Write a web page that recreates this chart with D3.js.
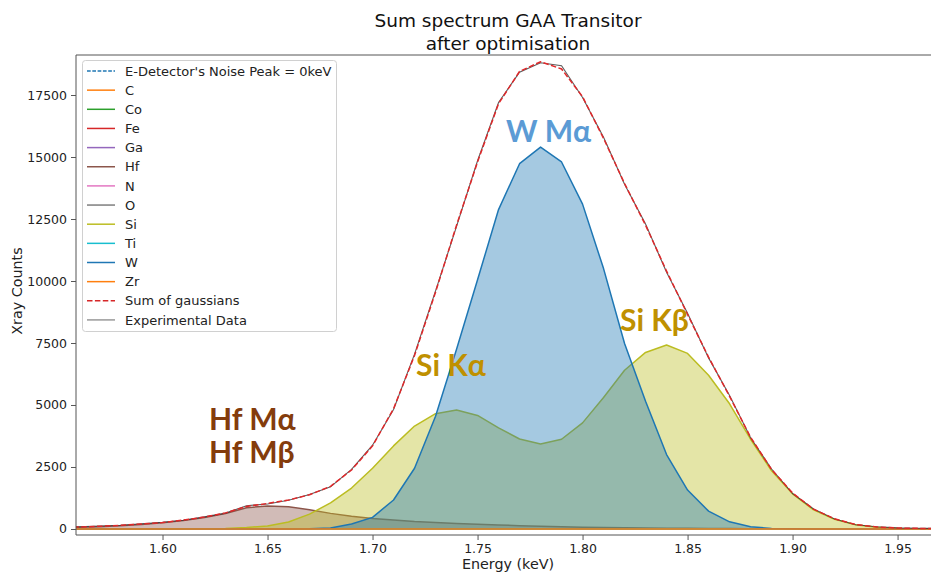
<!DOCTYPE html>
<html><head><meta charset="utf-8">
<script src="https://cdn.jsdelivr.net/npm/d3@7"></script>
<style>body{margin:0;background:#fff}svg{display:block}</style>
</head><body><svg id="c" width="931" height="572"></svg>
<script>
const energy = [1.55,1.56,1.57,1.58,1.59,1.60,1.61,1.62,1.63,1.64,1.65,1.66,1.67,1.68,1.69,1.70,1.71,1.72,1.73,1.74,1.75,1.76,1.77,1.78,1.79,1.80,1.81,1.82,1.83,1.84,1.85,1.86,1.87,1.88,1.89,1.90,1.91,1.92,1.93,1.94,1.95,1.96,1.97];
const hfValues = [50,70,95,130,180,250,340,460,620,860,930,900,780,630,510,420,360,300,260,220,190,160,135,110,90,75,60,50,42,35,28,22,18,15,12,10,8,7,6,5,4,3,2];
const siValues = [0,0,0,0,0,0,5,10,25,60,120,280,600,1050,1650,2450,3350,4150,4650,4800,4580,4080,3630,3430,3620,4280,5300,6400,7120,7420,7080,6200,5050,3620,2350,1420,770,390,170,70,25,10,5];
const wValues = [0,0,0,0,0,0,0,0,0,0,0,0,5,40,200,470,1170,2450,4550,7250,10050,12880,14730,15400,14800,13100,10500,7480,5150,3000,1570,720,290,90,25,5,0,0,0,0,0,0,0];
const sumValues = [60,80,110,150,200,260,360,480,650,910,1030,1170,1380,1720,2380,3350,4850,7000,9550,12250,14800,17150,18450,18840,18550,17430,15750,13930,12250,10400,8650,6930,5350,3700,2400,1450,800,410,180,80,40,25,20];
const expValues = [70,90,120,150,210,270,350,490,640,940,1010,1160,1390,1700,2400,3380,4820,7050,9600,12200,14850,17200,18420,18800,18680,17400,15800,13900,12300,10350,8700,6900,5380,3680,2420,1430,810,400,170,90,45,30,25];
const xTicks = [1.60,1.65,1.70,1.75,1.80,1.85,1.90,1.95];
const yTicks = [0,2500,5000,7500,10000,12500,15000,17500];
const legendLabels = ["E-Detector's Noise Peak = 0keV","C","Co","Fe","Ga","Hf","N","O","Si","Ti","W","Zr","Sum of gaussians","Experimental Data"];
const legendColors = ["#1f77b4","#ff7f0e","#2ca02c","#d62728","#9467bd","#8c564b","#e377c2","#7f7f7f","#bcbd22","#17becf","#1f77b4","#ff7f0e","#d62728","#666666"];
const zeroColors = ["#ff7f0e","#2ca02c","#d62728","#9467bd","#e377c2","#7f7f7f","#17becf","#ff7f0e"];

const svg = d3.select("#c");
const L = 76, R = 940, T = 55, B = 535;
const x = d3.scaleLinear().domain([1.5588, 1.9702]).range([L, R]);
const y = d3.scaleLinear().domain([-242, 19113]).range([B, T]);
const FONT = "DejaVu Sans, sans-serif";

svg.append("defs").append("clipPath").attr("id","clip")
  .append("rect").attr("x",L).attr("y",T).attr("width",R-L).attr("height",B-T);
const g = svg.append("g").attr("clip-path","url(#clip)");

const line = vals => d3.line().x((d,i)=>x(energy[i])).y(d=>y(d))(vals);
const area = vals => d3.area().x((d,i)=>x(energy[i])).y0(y(0)).y1(d=>y(d))(vals);
const zeros = energy.map(()=>0);

g.append("path").attr("d", line(zeros)).attr("fill","none").attr("stroke","#1f77b4").attr("stroke-width",1.5).attr("stroke-dasharray","5.5,2.4");
function element(vals, color){
  g.append("path").attr("d", line(vals)).attr("fill","none").attr("stroke",color).attr("stroke-width",1.5).attr("stroke-linejoin","round");
  g.append("path").attr("d", area(vals)).attr("fill",color).attr("fill-opacity",0.4).attr("stroke","none");
}
element(zeros, zeroColors[0]);
element(zeros, zeroColors[1]);
element(zeros, zeroColors[2]);
element(zeros, zeroColors[3]);
element(hfValues, "#8c564b");
element(zeros, zeroColors[4]);
element(zeros, zeroColors[5]);
element(siValues, "#bcbd22");
element(zeros, zeroColors[6]);
element(wValues, "#1f77b4");
element(zeros, zeroColors[7]);

g.append("path").attr("d", line(expValues)).attr("fill","none").attr("stroke","#333").attr("stroke-opacity",0.8).attr("stroke-width",1.1);
g.append("path").attr("d", line(sumValues)).attr("fill","none").attr("stroke","#e0282a").attr("stroke-width",1.5).attr("stroke-dasharray","5.5,2.4");

// spines
[[L,T,L,B],[L,B,R,B],[L,T,R,T],[R,T,R,B]].forEach(s=>svg.append("line").attr("x1",s[0]).attr("y1",s[1]).attr("x2",s[2]).attr("y2",s[3]).attr("stroke","#555").attr("stroke-width",1));

// axes
const xAxis = d3.axisBottom(x).tickValues(xTicks).tickFormat(d3.format(".2f")).tickSize(5).tickPadding(4);
const gx = svg.append("g").attr("transform",`translate(0,${B})`).call(xAxis);
const yAxis = d3.axisLeft(y).tickValues(yTicks).tickFormat(d3.format("d")).tickSize(5).tickPadding(4);
const gy = svg.append("g").attr("transform",`translate(${L},0)`).call(yAxis);
[gx,gy].forEach(a=>{
  a.select(".domain").remove();
  a.selectAll(".tick line").attr("stroke","#555");
  a.selectAll(".tick text").attr("fill","#222").style("font-family",FONT).style("font-size","12.5px");
});

svg.append("text").attr("x",(L+R)/2).attr("y",569).attr("text-anchor","middle").attr("fill","#222")
  .style("font-family",FONT).style("font-size","14.3px").text("Energy (keV)");
svg.append("text").attr("transform","translate(22,291) rotate(-90)").attr("text-anchor","middle").attr("fill","#222")
  .style("font-family",FONT).style("font-size","14.3px").text("Xray Counts");

svg.append("text").attr("x",(L+R)/2).attr("y",27).attr("text-anchor","middle").attr("fill","#111")
  .style("font-family",FONT).style("font-size","18.5px").text("Sum spectrum GAA Transitor");
svg.append("text").attr("x",(L+R)/2).attr("y",50).attr("text-anchor","middle").attr("fill","#111")
  .style("font-family",FONT).style("font-size","18.5px").text("after optimisation");

// annotations
const ann = [["W Mα",506,142,"#5b9bd5"],["Si Kα",416,376,"#bf9000"],["Si Kβ",620,331,"#bf9000"],["Hf Mα",209,430,"#843c0c"],["Hf Mβ",209,463,"#843c0c"]];
ann.forEach(a=>svg.append("text").attr("x",a[1]).attr("y",a[2]).attr("fill",a[3])
  .style("font-family","Lato, 'Open Sans', sans-serif").style("font-weight","bold").style("font-size","30px").text(a[0]));

// legend
const lg = svg.append("g");
lg.append("rect").attr("x",82.5).attr("y",60.5).attr("width",254).attr("height",271).attr("rx",3)
  .attr("fill","#fff").attr("fill-opacity",0.8).attr("stroke","#d0d0d0");
legendLabels.forEach((lab,i)=>{
  const yy = 71 + i*19.15;
  const ln = lg.append("line").attr("x1",87).attr("x2",115).attr("y1",yy).attr("y2",yy)
    .attr("stroke",legendColors[i]).attr("stroke-width", i===13?1:1.5);
  if(i===0) ln.attr("stroke-dasharray","3.7,1.6");
  if(i===12) ln.attr("stroke-dasharray","5.5,2.4");
  lg.append("text").attr("x",125).attr("y",yy).attr("dy","0.36em").attr("fill","#222")
    .style("font-family",FONT).style("font-size","13px").text(lab);
});
</script></body></html>
